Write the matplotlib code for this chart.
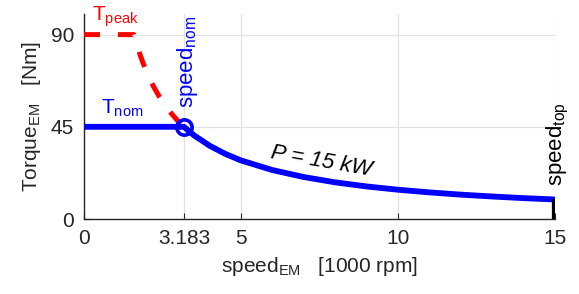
import matplotlib
matplotlib.use("Agg")
import matplotlib.pyplot as plt

plt.rcParams['font.family'] = ['Liberation Sans', 'DejaVu Sans']
plt.rcParams['mathtext.default'] = 'regular'

# data (speed in 1000 rpm, torque in Nm)
speed_blue = [0, 3.183, 3.5, 4, 4.5, 5, 6, 7, 8, 9, 10, 11, 12, 13, 14, 15]
torque_blue = [45, 45, 40.9, 35.8, 31.8, 28.6, 23.9, 20.5, 17.9, 15.9, 14.3, 13.0, 11.9, 11.0, 10.2, 9.55]
speed_peak = [0, 1.59, 1.7, 1.8, 1.9, 2.0, 2.2, 2.4, 2.6, 2.8, 3.0, 3.183]
torque_peak = [90, 90, 84.3, 79.6, 75.4, 71.6, 65.1, 59.7, 55.1, 51.2, 47.7, 45]
speed_nom = 3.183
torque_nom = 45
speed_top = 15
torque_top = 9.55
xticks = [0, 3.183, 5, 10, 15]
xticklabels = ['0', '3.183', '5', '10', '15']
yticks = [0, 45, 90]

fig = plt.figure(figsize=(5.79, 2.94), dpi=100)
ax = fig.add_axes([0.145, 0.255, 0.8135, 0.697])

ax.plot(speed_peak, torque_peak, color='#ff0000', lw=3.6, dashes=(3.2, 3.6), zorder=3)
ax.plot(speed_blue, torque_blue, color='#0000ff', lw=4.2, solid_capstyle='butt', zorder=4)
ax.plot([speed_nom], [torque_nom], 'o', ms=11, mfc='none', mec='#0000ff', mew=2.6, zorder=5)
ax.plot([speed_top, speed_top], [0, torque_top], color='black', lw=4.5, solid_capstyle='butt', zorder=5)

ax.set_xlim(0, 15)
ax.set_ylim(0, 100)
ax.set_xticks(xticks)
ax.set_xticklabels(xticklabels)
ax.set_yticks(yticks)
ax.grid(True, color='#e2e2e2', lw=0.9)
ax.set_axisbelow(True)
for s in ['top', 'right']:
    ax.spines[s].set_visible(False)
for s in ['left', 'bottom']:
    ax.spines[s].set_color('#262626')
    ax.spines[s].set_linewidth(1.0)
ax.tick_params(direction='in', length=4, labelsize=15, colors='#262626', pad=7)

ax.set_xlabel(r'speed$_{EM}$   [1000 rpm]', fontsize=15, color='#262626', labelpad=5)
ax.set_ylabel(r'Torque$_{EM}$   [Nm]', fontsize=15, color='#262626', labelpad=6)

ax.text(0.27, 96.8, r'T$_{peak}$', color='#ff0000', fontsize=15, ha='left', va='baseline', clip_on=False)
ax.text(0.55, 51.5, r'T$_{nom}$', color='#0000ff', fontsize=15, ha='left', va='baseline')
ax.text(speed_nom + 0.1, 54, r'speed$_{nom}$', color='#0000ff', fontsize=16, rotation=90,
        ha='center', va='bottom', clip_on=False)
ax.text(speed_top + 0.1, 16, r'speed$_{top}$', color='black', fontsize=16, rotation=90,
        ha='center', va='bottom', clip_on=False)
ax.text(7.55, 28, 'P = 15 kW', color='black', fontsize=16, style='italic', rotation=-10,
        ha='center', va='center')

fig.savefig('out.png', dpi=100)
